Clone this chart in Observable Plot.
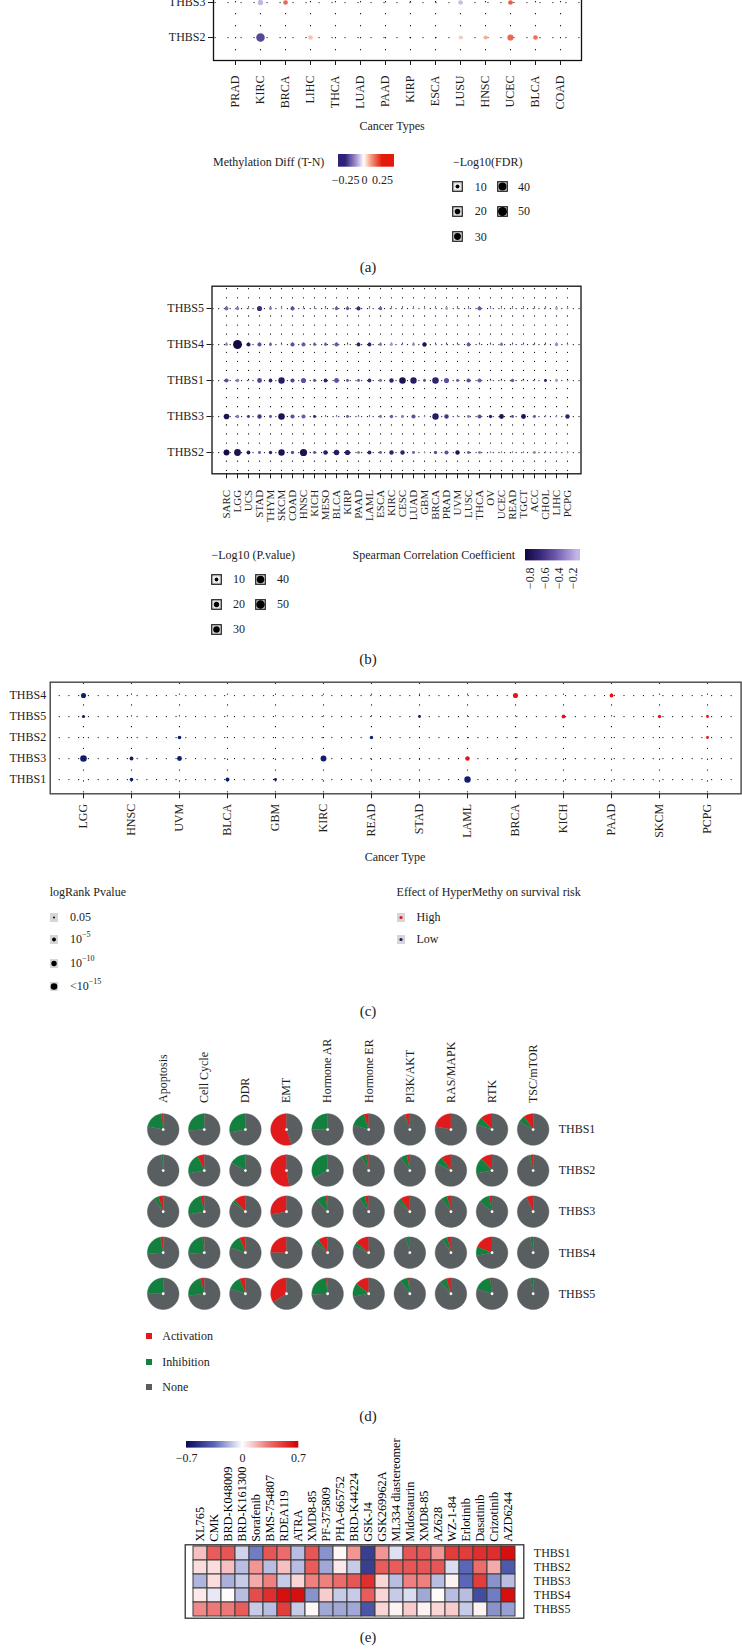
<!DOCTYPE html>
<html><head><meta charset="utf-8">
<script src="https://cdn.jsdelivr.net/npm/d3@7"></script>
<script src="https://cdn.jsdelivr.net/npm/@observablehq/plot@0.6"></script>
<style>
body{margin:0;background:#fff;}
#root{position:relative;width:742px;height:1649px;overflow:hidden;background:#fff;font-family:"Liberation Serif","DejaVu Serif",serif;color:#222;}
.t{position:absolute;white-space:nowrap;font-size:12px;line-height:1;transform:translateY(-50%);}
.t.c{transform:translate(-50%,-50%);}
.t sup{font-size:8px;vertical-align:6px;line-height:0;}
</style></head><body><div id="root"></div>
<script>
// ================= DATA =================
const genesTB = ["THBS5","THBS4","THBS1","THBS3","THBS2"];

// (a) methylation difference (only the two bottom rows are visible)
const aCancers = ["PRAD","KIRC","BRCA","LIHC","THCA","LUAD","PAAD","KIRP","ESCA","LUSU","HNSC","UCEC","BLCA","COAD"];
const aRows = ["THBS3","THBS2"];
const aDiffTHBS3 = [0,-0.07,0.16,0,0,0,0,0,0,-0.06,0,0.17,0,0];
const aFdrTHBS3  = [0,18,14,0,0,0,0,0,0,14,0,14,0,0];
const aDiffTHBS2 = [0,-0.2,0,0.06,0,0,0,0,0,0.05,0.08,0.16,0.15,0];
const aFdrTHBS2  = [0,45,0,14,0,0,0,0,0,10,10,24,14,0];
const aLegendSizes = [10,20,30,40,50];
const aLegendTicks = [-0.25,0,0.25];

// (b) correlation methylation vs expression
const bCancers = ["SARC","LGG","UCS","STAD","THYM","SKCM","COAD","HNSC","KICH","MESO","BLCA","KIRP","PAAD","LAML","ESCA","KIRC","CESC","LUAD","GBM","BRCA","PRAD","UVM","LUSC","THCA","OV","UCEC","READ","TGCT","ACC","CHOL","LIHC","PCPG"];
const bP_THBS5 = [10,8,1.5,18,6,1.5,12,1.5,1.5,1.5,8,8,12,1.5,8,1.5,1.5,1.5,1.5,1.5,6,1.5,1.5,12,1.5,1.5,1.5,1.5,1.5,1.5,6,1.5];
const bR_THBS5 = [-0.4,-0.35,-0.3,-0.65,-0.35,-0.3,-0.5,-0.3,-0.3,-0.3,-0.45,-0.45,-0.65,-0.3,-0.45,-0.3,-0.3,-0.3,-0.3,-0.3,-0.22,-0.3,-0.3,-0.45,-0.3,-0.3,-0.3,-0.3,-0.3,-0.3,-0.22,-0.3];
const bP_THBS4 = [6,55,12,12,6,1.5,12,12,6,6,12,1.5,10,10,6,6,1.5,6,14,1.5,1.5,1.5,10,1.5,1.5,6,1.5,1.5,1.5,1.5,8,1.5];
const bR_THBS4 = [-0.3,-0.85,-0.75,-0.5,-0.45,-0.3,-0.5,-0.45,-0.45,-0.45,-0.45,-0.3,-0.7,-0.7,-0.4,-0.25,-0.3,-0.3,-0.8,-0.3,-0.3,-0.3,-0.45,-0.3,-0.3,-0.4,-0.3,-0.3,-0.3,-0.3,-0.28,-0.3];
const bP_THBS1 = [12,8,1.5,16,10,28,12,18,6,10,16,6,6,10,6,14,30,28,6,30,18,6,12,12,1.5,1.5,8,1.5,1.5,6,6,1.5];
const bR_THBS1 = [-0.5,-0.35,-0.3,-0.55,-0.7,-0.75,-0.55,-0.5,-0.5,-0.7,-0.5,-0.45,-0.45,-0.65,-0.4,-0.7,-0.8,-0.75,-0.5,-0.7,-0.5,-0.45,-0.5,-0.45,-0.3,-0.3,-0.45,-0.3,-0.3,-0.7,-0.25,-0.3];
const bP_THBS3 = [22,8,6,14,6,30,12,12,6,1.5,1.5,6,1.5,1.5,6,8,6,12,1.5,28,14,1.5,6,12,8,16,6,16,6,1.5,1.5,14];
const bR_THBS3 = [-0.8,-0.35,-0.6,-0.6,-0.5,-0.8,-0.5,-0.45,-0.7,-0.3,-0.3,-0.45,-0.3,-0.3,-0.4,-0.45,-0.35,-0.5,-0.3,-0.75,-0.6,-0.3,-0.35,-0.5,-0.7,-0.8,-0.5,-0.8,-0.45,-0.3,-0.3,-0.7];
const bP_THBS2 = [24,32,10,6,8,28,8,36,6,14,20,18,6,10,6,14,14,6,1.5,8,12,14,6,6,1.5,1.5,1.5,1.5,6,1.5,1.5,1.5];
const bR_THBS2 = [-0.85,-0.8,-0.75,-0.45,-0.7,-0.8,-0.5,-0.8,-0.5,-0.75,-0.75,-0.75,-0.35,-0.7,-0.45,-0.7,-0.7,-0.45,-0.3,-0.5,-0.5,-0.8,-0.45,-0.35,-0.3,-0.3,-0.3,-0.3,-0.3,-0.3,-0.3,-0.3];
const bLegendSizes = [10,20,30,40,50];
const bLegendTicks = [-0.8,-0.6,-0.4,-0.2];

// (c) survival
const cCancers = ["LGG","HNSC","UVM","BLCA","GBM","KIRC","READ","STAD","LAML","BRCA","KICH","PAAD","SKCM","PCPG"];
const cGenes = ["THBS4","THBS5","THBS2","THBS3","THBS1"];
const cGene   = ["THBS4","THBS4","THBS4","THBS5","THBS5","THBS5","THBS5","THBS5","THBS2","THBS2","THBS2","THBS3","THBS3","THBS3","THBS3","THBS3","THBS1","THBS1","THBS1","THBS1"];
const cCancer = ["LGG","BRCA","PAAD","LGG","STAD","KICH","SKCM","PCPG","UVM","READ","PCPG","LGG","HNSC","UVM","KIRC","LAML","HNSC","BLCA","GBM","LAML"];
const cLogP   = [9,9,5,3.5,3,5,4,3,4.5,4,3,15,5,8,12,7,4.5,5.5,3,14];
const cEffect = ["Low","High","High","Low","Low","High","High","High","Low","Low","High","Low","Low","Low","Low","High","Low","Low","Low","Low"];
const cLegendP = [1.3,5,10,15];
const cLegendPLabels = ["0.05","10<sup>−5</sup>","10<sup>−10</sup>","&lt;10<sup>−15</sup>"];
const cEffects = ["High","Low"];

// (d) pathway pies
const dPathways = ["Apoptosis","Cell Cycle","DDR","EMT","Hormone AR","Hormone ER","PI3K/AKT","RAS/MAPK","RTK","TSC/mTOR"];
const dGenes = ["THBS1","THBS2","THBS3","THBS4","THBS5"];
const dCats = ["Activation","Inhibition","None"];
const actTHBS1 = [0.02,0,0,0.55,0,0.05,0.05,0.22,0.12,0.1];
const inhTHBS1 = [0.2,0.26,0.28,0,0.25,0.16,0.01,0,0.08,0.07];
const actTHBS2 = [0,0.07,0,0.53,0,0.03,0.03,0.1,0.12,0.03];
const inhTHBS2 = [0.02,0.21,0.17,0,0.33,0.05,0.07,0.08,0.16,0.02];
const actTHBS3 = [0.05,0.04,0.12,0.28,0.02,0.04,0.1,0.04,0.03,0.07];
const inhTHBS3 = [0.05,0.24,0.03,0,0.1,0.06,0.04,0.06,0.11,0];
const actTHBS4 = [0.03,0.02,0.06,0.25,0.1,0.14,0.01,0.04,0.19,0];
const inhTHBS4 = [0.23,0.24,0.14,0,0.04,0.04,0.03,0.05,0.09,0.03];
const actTHBS5 = [0,0.04,0.06,0.34,0.02,0.14,0.02,0.05,0.02,0];
const inhTHBS5 = [0.25,0.23,0.14,0,0.24,0.14,0.08,0.07,0.18,0.03];

// (e) drug sensitivity correlation
const eDrugs = ["XL765","CMK","BRD-K048009","BRD-K161300","Sorafenib","BMS-754807","RDEA119","ATRA","XMD8-85","PF-375809","PHA-665752","BRD-K44224","GSK-J4","GSK269962A","ML334 diastereomer","Midostaurin","XMD8-85","AZ628","WZ-1-84","Erlotinib","Dasatinib","Crizotinib","AZD6244"];
const eGenes = ["THBS1","THBS2","THBS3","THBS4","THBS5"];
const eTHBS1 = [0.15,0.4,0.42,-0.1,-0.3,0.42,0.35,-0.15,0.42,-0.25,0.02,0.25,-0.5,0.25,-0.07,0.42,0.42,0.25,0.5,0.5,0.55,0.55,0.65];
const eTHBS2 = [0.08,0.08,0.15,-0.15,0.25,-0.15,0.15,-0.15,0.4,-0.2,0.05,-0.12,-0.5,0.4,0.4,0.42,0.42,0.42,-0.08,-0.35,0.35,0.2,-0.4];
const eTHBS3 = [-0.17,0.08,-0.18,-0.12,0.2,0.3,-0.12,0.1,0.3,0.3,0.35,0.42,0.55,0.1,-0.15,0.3,0.3,-0.15,0.03,-0.35,0.5,-0.25,-0.15];
const eTHBS4 = [0.05,-0.05,0.01,-0.15,0.45,0.55,0.65,0.65,-0.25,0.12,-0.12,-0.12,0.4,0.1,-0.12,-0.08,-0.2,0.01,-0.15,-0.15,-0.45,-0.3,0.65];
const eTHBS5 = [0.28,0.32,0.32,0.4,-0.12,-0.15,0.5,-0.12,0.02,-0.2,-0.2,-0.2,-0.42,0.1,0.03,0.12,0.03,0.1,0.12,-0.12,0.03,-0.25,-0.22];
const eLegendTicks = [-0.7,0,0.7];

// ================= HELPERS =================
const root = document.getElementById("root");
const SERIF = '"Liberation Serif","DejaVu Serif",serif';
const baseStyle = {fontFamily: SERIF, fontSize: "12px", background: "transparent", color: "#1e1e1e", overflow: "visible"};
function put(el, x, y) { el.style.position = "absolute"; el.style.left = x + "px"; el.style.top = y + "px"; root.appendChild(el); return el; }
function label(str, x, y, {center = false, size = 12} = {}) {
  const d = document.createElement("div");
  d.className = "t" + (center ? " c" : "");
  d.style.fontSize = size + "px";
  d.innerHTML = str;
  return put(d, x, y);
}
function keySvg(cx, cy, w, h, inner) {
  const s = document.createElementNS("http://www.w3.org/2000/svg", "svg");
  s.setAttribute("width", w); s.setAttribute("height", h);
  s.innerHTML = inner;
  s.style.position = "absolute"; s.style.left = (cx - w / 2) + "px"; s.style.top = (cy - h / 2) + "px";
  root.appendChild(s);
}
function dashOffset(d, P) { return ((-d % P) + P) % P; }
function interpFrom(domain, stops, colors) {
  const s = d3.scaleLinear().domain(stops).range(colors).interpolate(d3.interpolateRgb).clamp(true);
  return t => s(domain[0] + t * (domain[1] - domain[0]));
}
const fmtMinus = d => (d < 0 ? "−" : "") + Math.abs(d);
function dotGrid(P, offset, dir) {
  const opts = {stroke: "#000", strokeOpacity: 1, strokeWidth: 1.25, strokeLinecap: "round", strokeDasharray: `0 ${P}`, strokeDashoffset: offset};
  return dir === "x" ? Plot.gridX(opts) : Plot.gridY(opts);
}

// colour scales
const aDom = [-0.345, 0.41];
const colorA = {type: "linear", domain: aDom, interpolate: interpFrom(aDom, [-0.25,-0.1,0,0.1,0.25], ["#30207a","#a896d2","#ffffff","#f59a7e","#e41a0c"])};
const bDom = [-0.87, -0.11];
const colorB = {type: "linear", domain: bDom, interpolate: interpFrom(bDom, [-0.85,-0.65,-0.45,-0.15], ["#150a48","#3b2a7d","#6c58ad","#c4b6e8"])};
const eDom = [-0.7, 0.7];
const colorE = {type: "linear", domain: eDom, interpolate: interpFrom(eDom, [-0.7,-0.35,0,0.35,0.7], ["#0a0a5c","#5b66b8","#ffffff","#ec6b6b","#d40000"])};

function ramp(color, {left, top, barW, barH, tickSize, mb, ticks, rotate = false}) {
  const pad = 15;
  const leg = Plot.legend({color, width: barW + 2 * pad, height: barH + mb, marginLeft: pad, marginRight: pad, marginTop: 0, marginBottom: mb,
    ticks, tickSize, tickFormat: fmtMinus, label: null, style: {fontFamily: SERIF, fontSize: "12px", background: "transparent", color: "#1e1e1e", overflow: "visible"}});
  leg.querySelectorAll(".tick line").forEach(n => n.remove());
  if (rotate) {
    leg.querySelectorAll(".tick text").forEach(t => {
      t.setAttribute("transform", "rotate(-90)"); t.setAttribute("text-anchor", "end");
      t.setAttribute("x", -(tickSize)); t.setAttribute("y", 0); t.setAttribute("dy", "0.32em");
    });
  }
  put(leg, left - pad, top);
  return leg;
}

// ================= PANEL A =================
{
  const T = -30, W = 742, H = 165, ml = 213, mr = 161, mt = 9.4, mb = 75, px = 0.58, py = 0.62;
  const sx = (W - ml - mr) / (aCancers.length - 1 + 2 * px), sy = (H - mt - mb) / (aRows.length - 1 + 2 * py);
  const data = [];
  aRows.forEach(g => {
    const diff = g === "THBS3" ? aDiffTHBS3 : aDiffTHBS2, fdr = g === "THBS3" ? aFdrTHBS3 : aFdrTHBS2;
    aCancers.forEach((c, i) => { if (fdr[i] > 0) data.push({gene: g, cancer: c, diff: diff[i], fdr: fdr[i]}); });
  });
  const chart = Plot.plot({width: W, height: H, marginTop: mt, marginBottom: mb, marginLeft: ml, marginRight: mr, style: baseStyle,
    x: {type: "point", domain: aCancers, padding: px, axis: null},
    y: {type: "point", domain: aRows, padding: py, axis: null},
    r: {type: "sqrt", domain: [0, 60], range: [0, 4.9]},
    color: colorA,
    marks: [
      dotGrid(sy / 3, dashOffset(py * sy, sy / 3), "x"),
      dotGrid(sx / 2, dashOffset(px * sx, sx / 2), "y"),
      Plot.dot(data, {x: "cancer", y: "gene", r: "fdr", fill: "diff"}),
      Plot.frame({stroke: "#111", strokeWidth: 1.3}),
      Plot.axisX({tickRotate: -90, tickSize: 5, tickPadding: 10, label: null}),
      Plot.axisY({tickSize: 5, tickPadding: 3, label: null})
    ]});
  put(chart, 0, T);
  label("Cancer Types", 392, 126, {center: true});
  label("Methylation Diff (T-N)", 213, 161.7);
  ramp(colorA, {left: 338, top: 154, barW: 56, barH: 12.7, tickSize: 6, mb: 20, ticks: aLegendTicks});
  label("−Log10(FDR)", 453, 161.7);
  const rs = chart.scale("r");
  const colX = [457.6, 502.6], labX = [474.7, 518], rowY = [186.7, 211.3, 236.7];
  aLegendSizes.forEach((v, k) => {
    const c = k < 3 ? 0 : 1, r = k < 3 ? k : k - 3;
    keySvg(colX[c], rowY[r], 11, 11, `<rect x="0.75" y="0.75" width="9.5" height="9.5" fill="#fff" stroke="#222" stroke-width="1.3"/><rect x="2" y="2" width="7" height="7" fill="none" stroke="#aaa" stroke-width="0.6"/><circle cx="5.5" cy="5.5" r="${rs.apply(v)}" fill="#000"/>`);
    label(String(v), labX[c], rowY[r]);
  });
  label("(a)", 368, 266.7, {center: true, size: 15});
}

// ================= PANEL B =================
{
  const T = 270, W = 742, H = 260, ml = 211.5, mr = 161.5, mt = 15.7, mb = 56.7, px = 0.63, py = 0.584;
  const sx = (W - ml - mr) / (bCancers.length - 1 + 2 * px), sy = (H - mt - mb) / (genesTB.length - 1 + 2 * py);
  const P = {THBS5: bP_THBS5, THBS4: bP_THBS4, THBS1: bP_THBS1, THBS3: bP_THBS3, THBS2: bP_THBS2};
  const R = {THBS5: bR_THBS5, THBS4: bR_THBS4, THBS1: bR_THBS1, THBS3: bR_THBS3, THBS2: bR_THBS2};
  const data = genesTB.flatMap(g => bCancers.map((c, i) => ({gene: g, cancer: c, p: P[g][i], rho: R[g][i]})));
  const chart = Plot.plot({width: W, height: H, marginTop: mt, marginBottom: mb, marginLeft: ml, marginRight: mr, style: baseStyle,
    x: {type: "point", domain: bCancers, padding: px, axis: null},
    y: {type: "point", domain: genesTB, padding: py, axis: null},
    r: {type: "sqrt", domain: [0, 60], range: [0, 4.65]},
    color: colorB,
    marks: [
      dotGrid(sy / 4, dashOffset(py * sy, sy / 4), "x"),
      dotGrid(sx / 2, dashOffset(px * sx, sx / 2), "y"),
      Plot.dot(data, {x: "cancer", y: "gene", r: "p", fill: "rho"}),
      Plot.frame({stroke: "#111", strokeWidth: 1.3}),
      Plot.axisX({tickRotate: -90, tickSize: 5, tickPadding: 11, fontSize: 11, label: null}),
      Plot.axisY({tickSize: 5, tickPadding: 3, label: null})
    ]});
  put(chart, 0, T);
  label("−Log10 (P.value)", 211.5, 555);
  label("Spearman Correlation Coefficient", 352.6, 555);
  ramp(colorB, {left: 525, top: 549.3, barW: 55, barH: 11.4, tickSize: 7, mb: 30, ticks: bLegendTicks, rotate: true});
  const rs = chart.scale("r");
  const colX = [216.8, 260], labX = [233, 277], rowY = [579.3, 604.3, 629.3];
  bLegendSizes.forEach((v, k) => {
    const c = k < 3 ? 0 : 1, r = k < 3 ? k : k - 3;
    keySvg(colX[c], rowY[r], 11, 11, `<rect x="0.75" y="0.75" width="9.5" height="9.5" fill="#fff" stroke="#222" stroke-width="1.3"/><rect x="2" y="2" width="7" height="7" fill="none" stroke="#aaa" stroke-width="0.6"/><circle cx="5.5" cy="5.5" r="${rs.apply(v)}" fill="#000"/>`);
    label(String(v), labX[c], rowY[r]);
  });
  label("(b)", 368, 659, {center: true, size: 15});
}

// ================= PANEL C =================
{
  const T = 670, W = 742, H = 170, ml = 49.7, mr = 1.4, mt = 11.7, mb = 46.7, px = 0.595, py = 0.57;
  const sx = (W - ml - mr) / (cCancers.length - 1 + 2 * px), sy = (H - mt - mb) / (cGenes.length - 1 + 2 * py);
  const data = cGene.map((g, i) => ({gene: g, cancer: cCancer[i], lp: cLogP[i], effect: cEffect[i]}));
  const chart = Plot.plot({width: W, height: H, marginTop: mt, marginBottom: mb, marginLeft: ml, marginRight: mr, style: baseStyle,
    x: {type: "point", domain: cCancers, padding: px, axis: null},
    y: {type: "point", domain: cGenes, padding: py, axis: null},
    r: {type: "sqrt", domain: [0, 15], range: [0, 3.3]},
    color: {domain: cEffects, range: ["#e8141c", "#101c6c"]},
    marks: [
      dotGrid(sy / 2, dashOffset(py * sy, sy / 2), "x"),
      dotGrid(sx / 5, dashOffset(px * sx, sx / 5), "y"),
      Plot.dot(data, {x: "cancer", y: "gene", r: "lp", fill: "effect"}),
      Plot.frame({stroke: "#444", strokeWidth: 1.4}),
      Plot.axisX({tickRotate: -90, tickSize: 5, tickPadding: 5, label: null}),
      Plot.axisY({tickSize: 0, tickPadding: 4, label: null})
    ]});
  put(chart, 0, T);
  label("Cancer Type", 395, 856.7, {center: true});
  label("logRank Pvalue", 49.7, 891.7);
  const rs = chart.scale("r"), cs = chart.scale("color");
  const rowY = [917.3, 939.3, 963.3, 986];
  cLegendP.forEach((v, k) => {
    keySvg(53.5, rowY[k], 8, 9, `<rect x="0" y="0" width="8" height="9" fill="#d6d6d6"/><circle cx="4" cy="4.5" r="${rs.apply(v)}" fill="#000"/>`);
    label(cLegendPLabels[k], 70, rowY[k]);
  });
  label("Effect of HyperMethy on survival risk", 396.6, 891.7);
  cEffects.forEach((e, k) => {
    keySvg(401.3, rowY[k], 8, 9, `<rect x="0" y="0" width="8" height="9" fill="#d6d6d6"/><circle cx="4" cy="4.5" r="1.6" fill="${cs.apply(e)}"/>`);
    label(e, 416.5, rowY[k]);
  });
  label("(c)", 368, 1011, {center: true, size: 15});
}

// ================= PANEL D =================
{
  const T = 1040, W = 742, H = 290, ml = 142.15, mr = 188.8, mt = 68.5, mb = 16.2;
  const unit = (W - ml - mr) / 10;
  const Rr = 15.8 / unit;
  const act = [actTHBS1, actTHBS2, actTHBS3, actTHBS4, actTHBS5];
  const inh = [inhTHBS1, inhTHBS2, inhTHBS3, inhTHBS4, inhTHBS5];
  const pts = [], centers = [];
  dGenes.forEach((g, j) => {
    dPathways.forEach((p, i) => {
      centers.push({x: i, y: j});
      const parts = [["Activation", act[j][i]], ["Inhibition", inh[j][i]], ["None", 1 - act[j][i] - inh[j][i]]];
      let c = 0;
      parts.forEach(([k, f]) => {
        if (f <= 0) return;
        const a0 = c * 2 * Math.PI, a1 = (c + f) * 2 * Math.PI; c += f;
        const id = g + "|" + p + "|" + k;
        pts.push({id, k, x: i, y: j});
        const n = Math.max(2, Math.ceil(f * 120));
        for (let s = 0; s <= n; s++) {
          const a = a0 + (a1 - a0) * s / n;
          pts.push({id, k, x: i - Rr * Math.sin(a), y: j - Rr * Math.cos(a)});
        }
      });
    });
  });
  const chart = Plot.plot({width: W, height: H, marginTop: mt, marginBottom: mb, marginLeft: ml, marginRight: mr, style: baseStyle,
    x: {type: "linear", domain: [-0.5, 9.5], axis: null},
    y: {type: "linear", domain: [-0.5, 4.5], reverse: true, axis: null},
    color: {domain: dCats, range: ["#e01b1b", "#13803f", "#595e61"]},
    marks: [
      Plot.line(pts, {x: "x", y: "y", z: "id", fill: "k", stroke: "k", strokeWidth: 0.4, curve: "linear-closed"}),
      Plot.dot(centers, {x: "x", y: "y", r: 1.4, fill: "white"}),
      Plot.axisX({anchor: "top", ticks: d3.range(dPathways.length), tickFormat: i => dPathways[i], tickRotate: -90, tickSize: 0, tickPadding: 6, label: null}),
      Plot.axisY({anchor: "right", ticks: d3.range(dGenes.length), tickFormat: j => dGenes[j], tickSize: 0, tickPadding: 5, label: null})
    ]});
  put(chart, 0, T);
  const cs = chart.scale("color");
  const rowY = [1336, 1362.3, 1386.7];
  dCats.forEach((k, idx) => {
    keySvg(149.3, rowY[idx], 6, 6, `<rect x="0" y="0" width="6" height="6" fill="${cs.apply(k)}"/>`);
    label(k, 162.3, rowY[idx]);
  });
  label("(d)", 368, 1416, {center: true, size: 15});
}

// ================= PANEL E =================
{
  const T = 1420, W = 742, H = 229, ml = 184.7, mr = 218.7, mt = 124.3, mb = 31.3;
  const rows = [eTHBS1, eTHBS2, eTHBS3, eTHBS4, eTHBS5];
  const data = eGenes.flatMap((g, j) => eDrugs.map((d, i) => ({i, gene: g, v: rows[j][i]})));
  const chart = Plot.plot({width: W, height: H, marginTop: mt, marginBottom: mb, marginLeft: ml, marginRight: mr, style: baseStyle,
    x: {type: "band", domain: d3.range(eDrugs.length), padding: 0, axis: null},
    y: {type: "band", domain: eGenes, padding: 0, axis: null},
    color: colorE,
    marks: [
      Plot.cell(data, {x: "i", y: "gene", fill: "v", stroke: "#3c3c3c", strokeWidth: 1}),
      Plot.frame({stroke: "#222", strokeWidth: 1.2}),
      Plot.axisX({anchor: "top", tickFormat: i => eDrugs[i], tickRotate: -90, tickSize: 0, tickPadding: 3, fontSize: 12.3, fill: "#000", label: null}),
      Plot.axisY({anchor: "right", tickSize: 0, tickPadding: 10, label: null})
    ]});
  put(chart, 0, T);
  ramp(colorE, {left: 186, top: 1440.7, barW: 112.3, barH: 6.6, tickSize: 3, mb: 16, ticks: eLegendTicks});
  label("(e)", 368, 1637, {center: true, size: 15});
}
</script></body></html>
